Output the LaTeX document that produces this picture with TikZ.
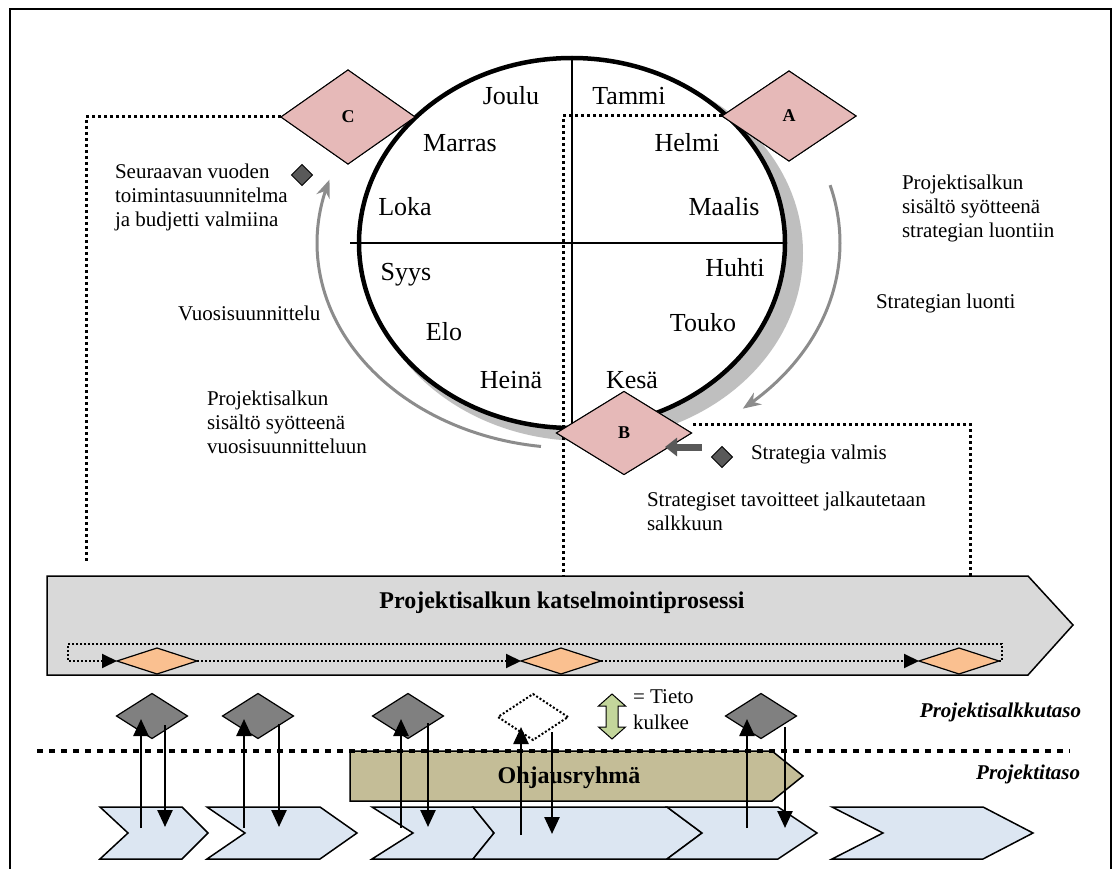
\documentclass[tikz,border=0pt]{standalone}
\usepackage{fontspec}
\setmainfont{Liberation Serif}
\usetikzlibrary{arrows.meta,shapes.geometric,calc}

\definecolor{pinkd}{HTML}{E6B9B8}
\definecolor{orangd}{HTML}{FAC090}
\definecolor{darkd}{HTML}{808080}
\definecolor{markd}{HTML}{595959}
\definecolor{shadowg}{HTML}{BFBFBF}
\definecolor{arcg}{HTML}{8C8C8C}
\definecolor{barg}{HTML}{D9D9D9}
\definecolor{steertan}{HTML}{C4BD97}
\definecolor{chevblue}{HTML}{DCE6F2}
\definecolor{legendg}{HTML}{C3D69B}

\tikzset{
  every node/.style={inner sep=0pt, outer sep=0pt},
  month/.style={font=\fontsize{26}{30}\selectfont},
  note/.style={font=\fontsize{21}{24}\selectfont, align=left, anchor=west},
  milestone/.style={diamond, draw, line width=1pt, fill=pinkd, minimum width=134,
    minimum height=90, font=\bfseries\fontsize{18}{20}\selectfont},
  review/.style={diamond, draw, line width=1.2pt, fill=orangd, minimum width=80, minimum height=26},
  gate/.style={diamond, draw, line width=1.2pt, fill=darkd, minimum width=71, minimum height=45},
  opengate/.style={diamond, draw, line width=2pt, dash pattern=on 2pt off 2pt, fill=white,
    minimum width=70, minimum height=46},
  marker/.style={diamond, draw, line width=1pt, fill=markd, minimum width=21, minimum height=21},
  linkdots/.style={line width=3pt, dash pattern=on 3pt off 3pt},
  loopdots/.style={line width=2pt, dash pattern=on 2pt off 2pt},
  looptip/.style={-{Triangle[length=15pt,width=14pt]}},
  levelline/.style={line width=4.5pt, dash pattern=on 6pt off 6pt},
  flow/.style={line width=2.5pt, -{Triangle[length=17pt,width=15pt]}},
  cyclearrow/.style={line width=3pt, arcg, -{Stealth[length=18pt,width=14pt]}},
  chev/.style={draw, line width=1.5pt, fill=chevblue},
  bigbar/.style={draw, line width=1.5pt},
}

\begin{document}
\begin{tikzpicture}[x=1pt,y=-1pt]
\useasboundingbox (0,0) rectangle (1120,869);
\clip (0,0) rectangle (1120,869);
\fill[white] (0,0) rectangle (1120,869);
\draw[line width=1.5pt] (10,9) rectangle (1111,880);

% ---------- year wheel ----------
\node[ellipse, fill=shadowg, minimum width=438, minimum height=376] (shadow) at (584,253) {};
\node[ellipse, draw, line width=4.5pt, fill=white, minimum width=426, minimum height=370] (year) at (572,243) {};
\coordinate (vTop) at (572,56);
\coordinate (hLeft) at (350,243);
\draw[line width=1.5pt] (vTop) -- (year.south);
\draw[line width=1.5pt] (hLeft) -- (year.east);

\node[month] (m12) at (511,96) {Joulu};
\node[month] (m1)  at (629,96) {Tammi};
\node[month] (m11) at (460,143) {Marras};
\node[month] (m2)  at (687,143) {Helmi};
\node[month] (m10) at (405,207) {Loka};
\node[month] (m3)  at (724,207) {Maalis};
\node[month] (m9)  at (406,275) {Syys};
\node[month] (m4)  at (735,268) {Huhti};
\node[month] (m8)  at (444,332) {Elo};
\node[month] (m5)  at (703,323) {Touko};
\node[month] (m7)  at (511,380) {Heinä};
\node[month] (m6)  at (632,380) {Kesä};

% cycle arrows around the wheel
\draw[cyclearrow] plot[domain=-15.6:50.4, samples=60] ({572+268*cos(\x)},{243+215*sin(\x)});
\draw[cyclearrow] plot[domain=97:198, samples=60] ({572+255*cos(\x)},{243+205*sin(\x)});

% ---------- milestones and their links to the review bar ----------
\node[milestone, minimum height=94] (C) at (348,117) {C};
\node[milestone] (A) at (789,116) {A};
\node[milestone, minimum width=135, minimum height=83] (B) at (624,433) {B};

\coordinate (cDrop) at (86,562);
\coordinate (aDrop) at (563,576);
\coordinate (bStart) at (693,424);
\coordinate (bDrop) at (970,576);
\draw[linkdots] (C.west) -| (cDrop);
\draw[linkdots] (A.west) -| (aDrop);
\draw[linkdots] (bStart) -| (bDrop);

% redraw the milestones over the link lines
\node[milestone, minimum height=94] at (C) {C};
\node[milestone] at (A) {A};
\node[milestone, minimum width=135, minimum height=83] at (B) {B};

\node[marker] (mkC) at (302,175) {};
\node[marker] (mkB) at (722,457) {};
\coordinate (bIn) at (702,447);
\coordinate (bTip) at (665,447);
\draw[line width=7pt, markd, -{Triangle[length=12pt,width=18pt]}] (bIn) -- (bTip);

\node[note] (tC) at (115,197) {Seuraavan vuoden\\toimintasuunnitelma\\ja budjetti valmiina};
\node[note] (tA) at (902,208) {Projektisalkun\\sisältö syötteenä\\strategian luontiin};
\node[note] (tS) at (876,303) {Strategian luonti};
\node[note] (tV) at (178,313) {Vuosisuunnittelu};
\node[note] (tP) at (207,422) {Projektisalkun\\sisältö syötteenä\\vuosisuunnitteluun};
\node[note] (tB) at (751,454) {Strategia valmis};
\node[note] (tG) at (647,511) {Strategiset tavoitteet jalkautetaan\\salkkuun};

% ---------- portfolio review process ----------
\draw[bigbar, fill=barg] (47,576) -- (1028,576) -- (1073,625) -- (1028,675) -- (47,675) -- cycle;
\node[font=\bfseries\fontsize{24}{28}\selectfont] (revtxt) at (562,603) {Projektisalkun katselmointiprosessi};

\node[review] (r1) at (157,661) {};
\node[review] (r2) at (561,661) {};
\node[review] (r3) at (959,661) {};
\coordinate (loopNE) at (1002,644);
\coordinate (loopNW) at (68,644);
\draw[loopdots, looptip] (r3.east) -| (loopNE) -- (loopNW) |- (r1.west);
\draw[loopdots, looptip] (r1.east) -- (r2.west);
\draw[loopdots, looptip] (r2.east) -- (r3.west);

% ---------- steering group ----------
\draw[bigbar, fill=steertan] (350,751) -- (772,751) -- (803,776) -- (772,801) -- (350,801) -- cycle;
\node[font=\bfseries\fontsize{24}{28}\selectfont] (sgtxt) at (569,778) {Ohjausryhmä};

\coordinate (sepL) at (37,751);
\coordinate (sepR) at (1070,751);
\draw[levelline] (sepL) -- (sepR);

% ---------- projects ----------
\draw[chev] (100,807) -- (182,807) -- (208,833) -- (182,859) -- (100,859) -- (128,833) -- cycle;
\draw[chev] (207,807) -- (320,807) -- (357,833) -- (320,859) -- (207,859) -- (245,833) -- cycle;
\draw[chev] (372,807) -- (473,807) -- (494,833) -- (473,859) -- (372,859) -- (413,833) -- cycle;
\draw[chev] (473,807) -- (667,807) -- (702,833) -- (667,859) -- (473,859) -- (494,833) -- cycle;
\draw[chev] (667,807) -- (778,807) -- (817,833) -- (778,859) -- (667,859) -- (702,833) -- cycle;
\draw[chev] (832,807) -- (983,807) -- (1033,833) -- (983,859) -- (832,859) -- (883,833) -- cycle;

% ---------- portfolio gates ----------
\node[gate] (g1) at (152,716) {};
\node[gate] (g2) at (258,716) {};
\node[gate] (g3) at (408,716) {};
\node[opengate] (g4) at (533,717) {};
\node[gate] (g5) at (761,716) {};

\coordinate (p1u) at (141,828); \coordinate (p1d) at (165,827);
\coordinate (p2u) at (244,828); \coordinate (p2d) at (279,827);
\coordinate (p3u) at (401,828); \coordinate (p3d) at (428,827);
\coordinate (p4u) at (521,835); \coordinate (p4d) at (552,834);
\coordinate (p5u) at (747,828); \coordinate (p5d) at (785,828);

\draw[flow] (p1u) -- ($(p1u |- g1.center)+(0,3)$);
\draw[flow] ($(p1d |- g1.center)+(0,9)$) -- (p1d);
\draw[flow] (p2u) -- ($(p2u |- g2.center)+(0,3)$);
\draw[flow] ($(p2d |- g2.center)+(0,8)$) -- (p2d);
\draw[flow] (p3u) -- ($(p3u |- g3.center)+(0,3)$);
\draw[flow] ($(p3d |- g3.center)+(0,7)$) -- (p3d);
\draw[flow] (p4u) -- ($(p4u |- g4.center)+(0,10)$);
\draw[flow] ($(p4d |- g4.center)+(0,15)$) -- (p4d);
\draw[flow] (p5u) -- ($(p5u |- g5.center)+(0,3)$);
\draw[flow] ($(p5d |- g5.center)+(0,11)$) -- (p5d);

% ---------- legend and level labels ----------
\draw[line width=1pt, fill=legendg]
  (612,694) -- (625.5,706) -- (618,706) -- (618,727) -- (625.5,727) -- (612,739)
  -- (598.5,727) -- (606,727) -- (606,706) -- (598.5,706) -- cycle;
\node[note, font=\fontsize{21}{26}\selectfont] (legend) at (633,710) {= Tieto\\kulkee};

\node[anchor=east, font=\bfseries\itshape\fontsize{21}{24}\selectfont] (lvl1) at (1081,712) {Projektisalkkutaso};
\node[anchor=east, font=\bfseries\itshape\fontsize{21}{24}\selectfont] (lvl2) at (1080,774) {Projektitaso};
\end{tikzpicture}
\end{document}
